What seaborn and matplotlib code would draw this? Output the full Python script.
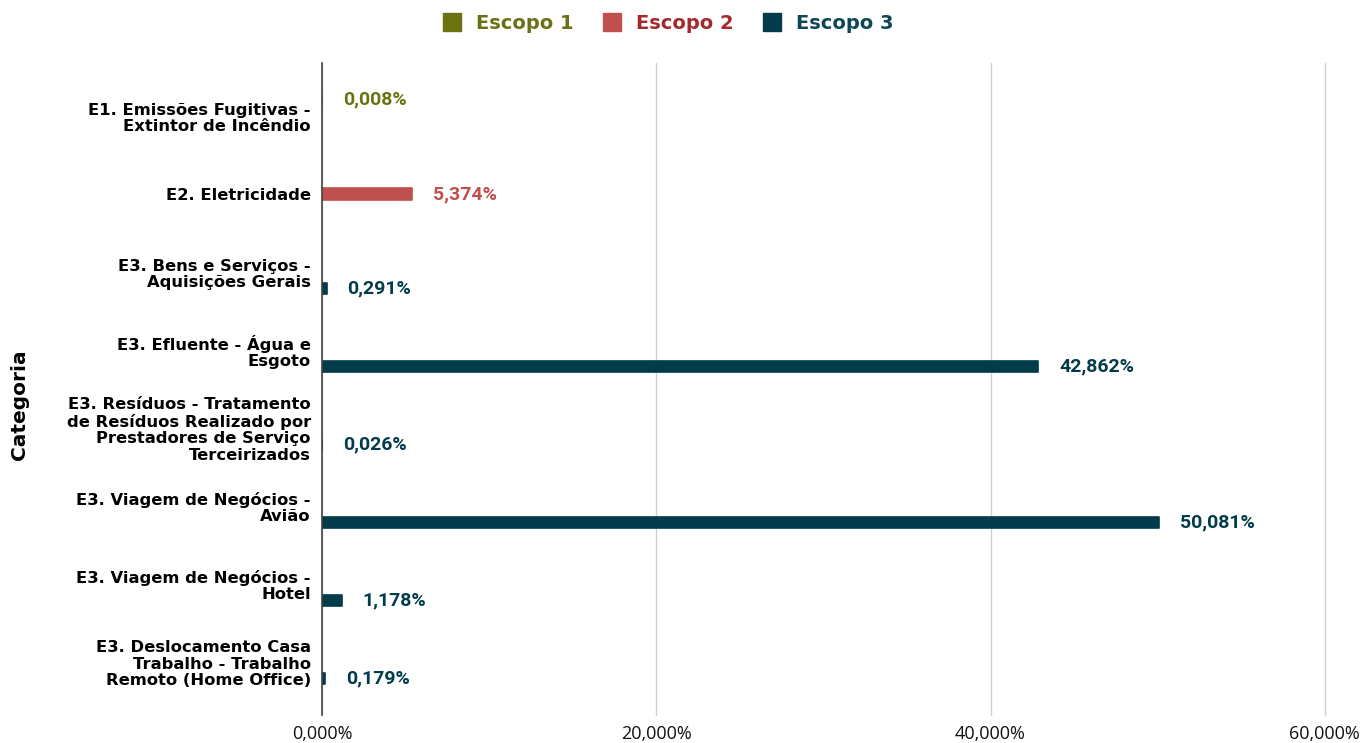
import pandas as pd
import matplotlib.pyplot as plt
import seaborn as sns
from matplotlib.lines import Line2D
from matplotlib.ticker import FuncFormatter

categorias = [
    "E1. Emissões Fugitivas -\nExtintor de Incêndio",
    "E2. Eletricidade",
    "E3. Bens e Serviços -\nAquisições Gerais",
    "E3. Efluente - Água e\nEsgoto",
    "E3. Resíduos - Tratamento\nde Resíduos Realizado por\nPrestadores de Serviço\nTerceirizados",
    "E3. Viagem de Negócios -\nAvião",
    "E3. Viagem de Negócios -\nHotel",
    "E3. Deslocamento Casa\nTrabalho - Trabalho\nRemoto (Home Office)",
]
escopos = ["Escopo 1", "Escopo 2", "Escopo 3", "Escopo 3", "Escopo 3", "Escopo 3", "Escopo 3", "Escopo 3"]
valores = [0.008, 5.374, 0.291, 42.862, 0.026, 50.081, 1.178, 0.179]

hue_order = ["Escopo 1", "Escopo 2", "Escopo 3"]
bar_colors = ["#6b7311", "#c0504d", "#023c4b"]
legend_text_colors = ["#6b7014", "#a5282c", "#0d4654"]

df = pd.DataFrame({"categoria": categorias, "escopo": escopos, "valor": valores})

sns.set_style("white")
fig = plt.figure(figsize=(13.64, 7.43), dpi=100)
ax = fig.add_axes([0.236, 0.0377, 0.7353, 0.8775])

sns.barplot(data=df, x="valor", y="categoria", hue="escopo", hue_order=hue_order,
            order=categorias, palette=bar_colors, saturation=1, orient="h",
            width=0.63, gap=0.32, dodge=True, legend=False, ax=ax)

for patch in ax.patches:
    patch.set_edgecolor(patch.get_facecolor())
    patch.set_linewidth(1.2)
    patch.set_joinstyle("round")

# value labels
for cont in ax.containers:
    if len(cont) == 0:
        continue
    col = cont[0].get_facecolor()
    labels = [f"{b.get_width():.3f}%".replace(".", ",") for b in cont]
    ax.bar_label(cont, labels=labels, padding=15, color=col,
                 fontfamily="Roboto", fontweight="bold", fontsize=14)

ax.set_xlim(0, 60)
ax.set_ylim(7.68, -0.68)
ax.set_xticks([0, 20, 40, 60])
ax.xaxis.set_major_formatter(FuncFormatter(lambda v, p: f"{v:.3f}%".replace(".", ",")))
ax.set_yticks(range(len(categorias)))
ax.set_yticklabels(categorias, fontdict={"family": "DejaVu Sans", "weight": "bold", "size": 11.8},
                   color="#000000", linespacing=1.12)
for t in ax.get_xticklabels():
    t.set_fontfamily("Open Sans")
    t.set_fontsize(13)
    t.set_color("#111111")
ax.tick_params(axis="x", length=0, pad=7)
ax.tick_params(axis="y", length=0, pad=8)

ax.grid(axis="x", color="#d0d0d0", linewidth=1)
ax.grid(axis="y", visible=False)
for gl in ax.get_xgridlines():
    gl.set_clip_on(False)
ax.set_axisbelow(True)
for s in ["top", "right", "bottom"]:
    ax.spines[s].set_visible(False)
ax.spines["left"].set_color("#444444")
ax.spines["left"].set_linewidth(1.2)

ax.set_xlabel("")
ax.set_ylabel("")
fig.text(20 / 1364, 1 - 405 / 743, "Categoria", rotation=90, ha="center", va="center",
         fontfamily="DejaVu Sans", fontweight="bold", fontsize=14.5, color="#000000")

handles = [Line2D([], [], marker="s", linestyle="none", markersize=13,
                  markerfacecolor=c, markeredgecolor=c) for c in bar_colors]
leg = fig.legend(handles, hue_order, loc="center", bbox_to_anchor=(0.489, 0.968),
                 ncol=3, frameon=False, handletextpad=0.65, columnspacing=1.35,
                 handlelength=1.2,
                 prop={"family": "DejaVu Sans", "weight": "bold", "size": 14})
for txt, c in zip(leg.get_texts(), legend_text_colors):
    txt.set_color(c)

fig.savefig("out.png", dpi=100)
